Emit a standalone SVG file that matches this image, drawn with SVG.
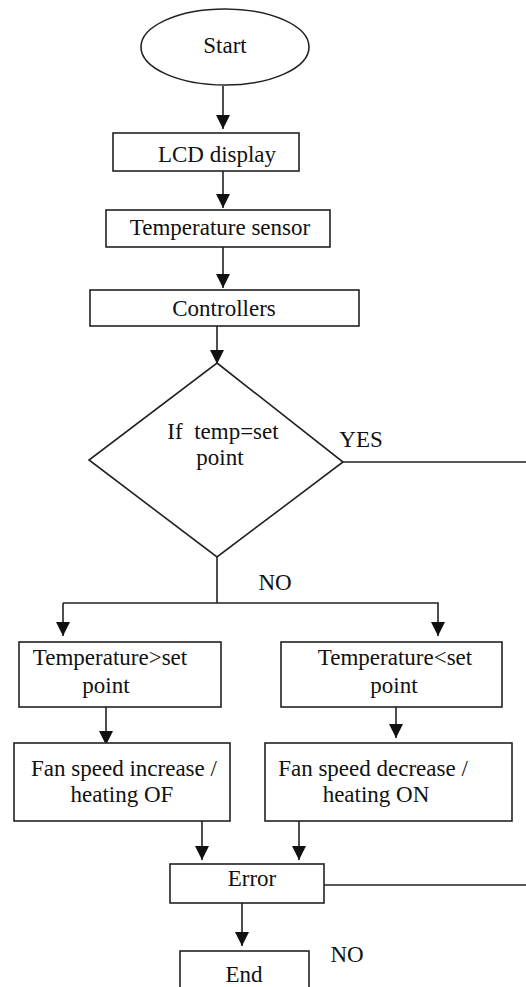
<svg xmlns="http://www.w3.org/2000/svg" width="526" height="987" viewBox="0 0 526 987">
<style>
.s{fill:#fff;stroke:#222;stroke-width:1.6}
.c{fill:none;stroke:#222;stroke-width:1.6}
text{font-family:"Liberation Serif","Times New Roman",serif;font-size:23px;fill:#111;text-anchor:middle}
</style>
<defs>
<marker id="ah" markerUnits="userSpaceOnUse" markerWidth="14" markerHeight="14" viewBox="0 0 14 14" refX="14" refY="7" orient="auto">
<path d="M0,0 L14,7 L0,14 z" fill="#111"/>
</marker>
</defs>
<g id="connectors">
<line class="c" x1="223" y1="86" x2="223" y2="129" marker-end="url(#ah)"/>
<line class="c" x1="223" y1="171" x2="223" y2="208" marker-end="url(#ah)"/>
<line class="c" x1="223" y1="247" x2="223" y2="288" marker-end="url(#ah)"/>
<line class="c" x1="217" y1="326" x2="217" y2="364" marker-end="url(#ah)"/>
<line class="c" x1="343" y1="462" x2="526" y2="462"/>
<line class="c" x1="217" y1="557" x2="217" y2="603"/>
<polyline class="c" points="63,603 438,603 438,636" marker-end="url(#ah)"/>
<line class="c" x1="63" y1="603" x2="63" y2="636" marker-end="url(#ah)"/>
<line class="c" x1="106" y1="707" x2="106" y2="745" marker-end="url(#ah)"/>
<line class="c" x1="396" y1="707" x2="396" y2="738" marker-end="url(#ah)"/>
<line class="c" x1="202" y1="821" x2="202" y2="860" marker-end="url(#ah)"/>
<line class="c" x1="299" y1="821" x2="299" y2="860" marker-end="url(#ah)"/>
<line class="c" x1="324" y1="885" x2="526" y2="885"/>
<line class="c" x1="242" y1="903" x2="242" y2="946" marker-end="url(#ah)"/>
<text x="361" y="447">YES</text>
<text x="275" y="590">NO</text>
<text x="347" y="962">NO</text>
</g>
<g id="start">
<ellipse class="s" cx="225" cy="47" rx="84" ry="38"/>
<text x="225" y="53">Start</text>
</g>
<g id="lcd">
<rect class="s" x="113" y="133" width="186" height="38"/>
<text x="217" y="162">LCD display</text>
</g>
<g id="sensor">
<rect class="s" x="106" y="210" width="224" height="37"/>
<text x="220" y="235">Temperature sensor</text>
</g>
<g id="controllers">
<rect class="s" x="90" y="290" width="269" height="36"/>
<text x="224" y="316">Controllers</text>
</g>
<g id="decision">
<polygon class="s" points="217,363 343,462 217,557 89,460"/>
<text x="223" y="439" xml:space="preserve">If  temp=set</text>
<text x="220" y="465">point</text>
</g>
<g id="gt">
<rect class="s" x="19" y="642" width="202" height="65"/>
<text x="110" y="665">Temperature&gt;set</text>
<text x="106" y="693">point</text>
</g>
<g id="lt">
<rect class="s" x="281" y="642" width="221" height="65"/>
<text x="395" y="665">Temperature&lt;set</text>
<text x="394" y="693">point</text>
</g>
<g id="fanup">
<rect class="s" x="14" y="743" width="216" height="78"/>
<text x="124" y="776">Fan speed increase /</text>
<text x="122" y="802">heating OF</text>
</g>
<g id="fandown">
<rect class="s" x="265" y="743" width="247" height="78"/>
<text x="373" y="776">Fan speed decrease /</text>
<text x="376" y="802">heating ON</text>
</g>
<g id="error">
<rect class="s" x="170" y="864" width="154" height="39"/>
<text x="252" y="886">Error</text>
</g>
<g id="end">
<rect class="s" x="180" y="951" width="129" height="45"/>
<text x="244" y="982">End</text>
</g>
</svg>
